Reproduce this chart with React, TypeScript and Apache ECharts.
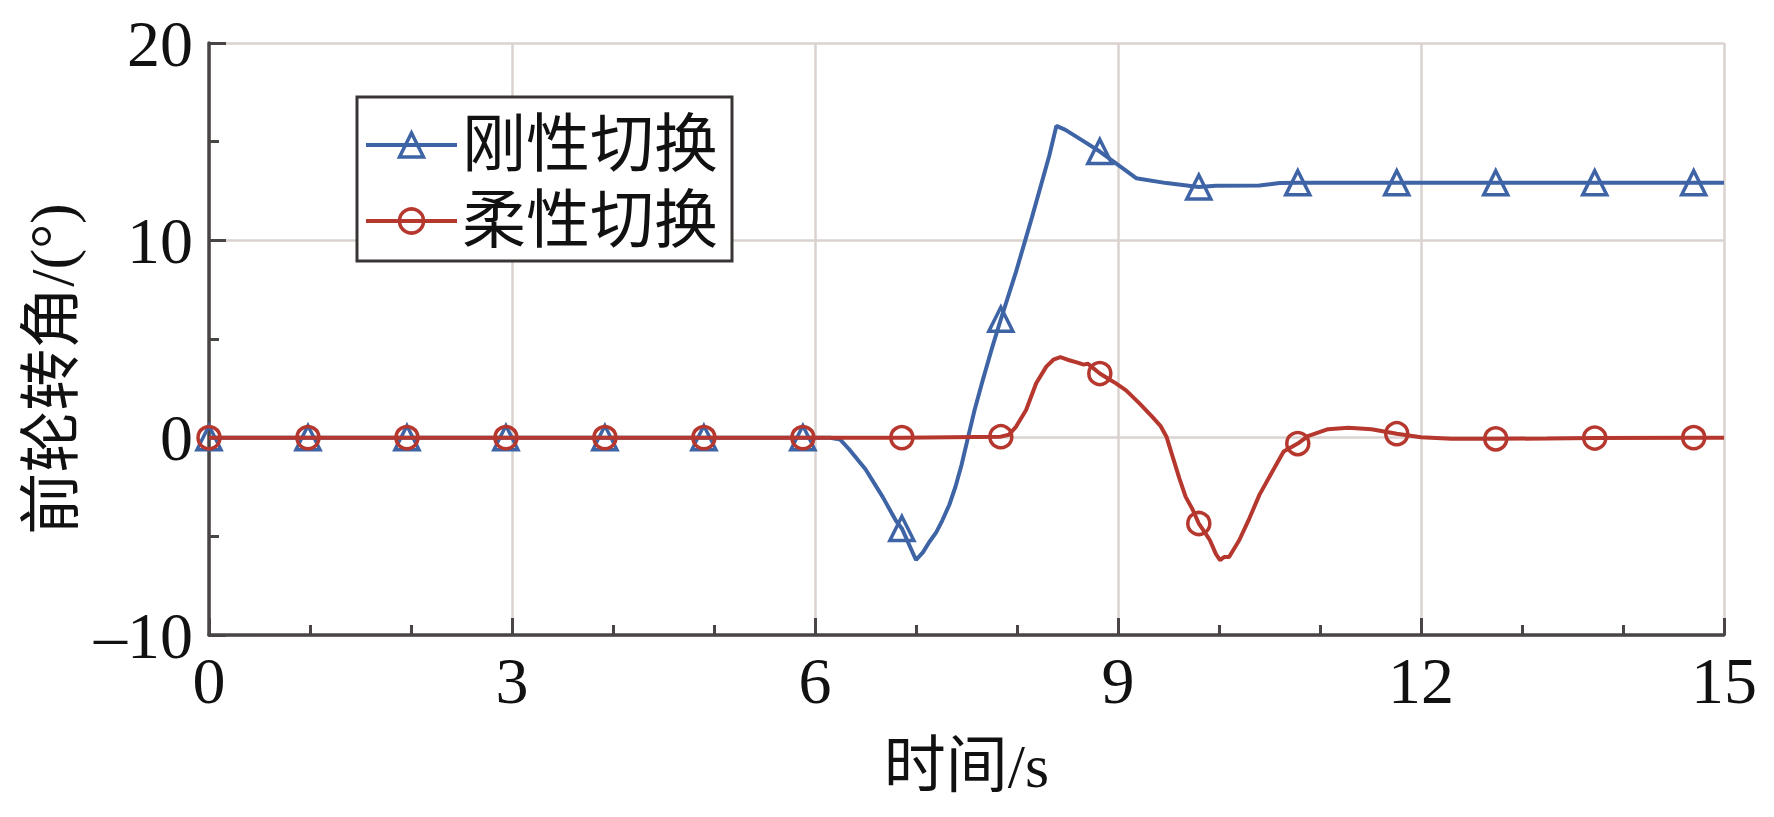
import React, { useEffect, useRef } from "react";
import * as echarts from "echarts";

const seriesNames = ["刚性切换", "柔性切换"];
const markerTimes = [0, 0.98, 1.96, 2.94, 3.92, 4.9, 5.88, 6.86, 7.84, 8.82, 9.8, 10.78, 11.76, 12.74, 13.72, 14.7];

const rigidCurve: [number, number][] = [
  [0, 0], [0.98, 0], [1.96, 0], [2.94, 0], [3.92, 0], [4.9, 0], [5.88, 0], [6.15, 0],
  [6.25, -0.1], [6.34, -0.6], [6.5, -1.6], [6.67, -3.0], [6.8, -4.2], [6.86, -4.6], [6.93, -5.4],
  [7.0, -6.2], [7.07, -5.8], [7.13, -5.3], [7.2, -4.8], [7.26, -4.2], [7.33, -3.4], [7.39, -2.5],
  [7.45, -1.4], [7.51, -0.1], [7.58, 1.4], [7.66, 2.9], [7.75, 4.5], [7.84, 6.0], [7.99, 8.4],
  [8.15, 11.2], [8.32, 14.3], [8.39, 15.8], [8.48, 15.6], [8.65, 15.05], [8.82, 14.5], [8.98, 13.9],
  [9.18, 13.15], [9.48, 12.9], [9.8, 12.7], [9.97, 12.76], [10.4, 12.78], [10.6, 12.9], [10.78, 12.92],
  [11.76, 12.92], [12.74, 12.92], [13.72, 12.92], [14.7, 12.92], [15, 12.92],
];

const flexibleCurve: [number, number][] = [
  [0, 0], [0.98, 0], [1.96, 0], [2.94, 0], [3.92, 0], [4.9, 0], [5.88, 0], [6.86, 0], [7.84, 0.05],
  [7.92, 0.15], [7.99, 0.55], [8.09, 1.4], [8.19, 2.76], [8.29, 3.6], [8.36, 3.95], [8.43, 4.08],
  [8.5, 3.95], [8.6, 3.8], [8.66, 3.7], [8.7, 3.75], [8.82, 3.25], [8.9, 3.0], [8.98, 2.75],
  [9.08, 2.4], [9.21, 1.75], [9.34, 1.05], [9.42, 0.6], [9.48, 0.05], [9.54, -0.95], [9.61, -2.1],
  [9.67, -3.0], [9.74, -3.65], [9.8, -4.35], [9.86, -4.8], [9.91, -5.2], [9.97, -5.9], [10.01, -6.2],
  [10.05, -6.05], [10.1, -6.05], [10.2, -5.2], [10.3, -4.1], [10.4, -2.9], [10.53, -1.7], [10.64, -0.7],
  [10.78, -0.3], [10.88, 0.08], [11.08, 0.43], [11.28, 0.5], [11.51, 0.43], [11.76, 0.2], [12, 0.02],
  [12.3, -0.06], [12.74, -0.06], [13.25, -0.04], [13.72, -0.02], [14.7, 0], [15, 0],
];

const xTicks = { min: 0, max: 15, interval: 3 };
const yTicks = { min: -10, max: 20, interval: 10 };

const BLUE = "#3e64a6";
const RED = "#b5372e";
const AXIS = "#4a4545";
const GRID = "#dad2cf";
const FONT = "'Liberation Serif', 'Noto Sans CJK SC', serif";

function buildData(curve: [number, number][]) {
  return curve.map(([x, y]) => {
    const isMarker = markerTimes.some((m) => Math.abs(m - x) < 1e-6);
    return isMarker ? { value: [x, y] } : { value: [x, y], symbol: "none" };
  });
}

export default function App() {
  const ref = useRef<HTMLDivElement>(null);
  useEffect(() => {
    document.body.style.margin = "0";
    const chart = echarts.init(ref.current!, undefined, { renderer: "svg" });
    const axisCommon = {
      axisLine: { show: true, onZero: false, lineStyle: { color: AXIS, width: 3.5 } },
      axisTick: { show: true, inside: true, length: 17, lineStyle: { color: AXIS, width: 3 } },
      minorTick: { show: true, length: 10, lineStyle: { color: AXIS, width: 3 } },
      splitLine: { show: true, lineStyle: { color: GRID, width: 2.5 } },
      axisLabel: { color: "#111", fontFamily: FONT, fontSize: 66 },
      nameTextStyle: { color: "#111", fontFamily: FONT, fontSize: 62 },
    };
    chart.setOption({
      animation: false,
      backgroundColor: "#fff",
      grid: { left: 209, right: 50, top: 43, bottom: 182, containLabel: false },
      legend: {
        orient: "vertical",
        left: 357,
        top: 97,
        data: seriesNames,
        backgroundColor: "#fff",
        borderColor: "#3a3535",
        borderWidth: 3,
        borderRadius: 0,
        padding: [16, 14, 8, 7],
        itemWidth: 91,
        itemHeight: 30,
        itemGap: 12,
        itemStyle: { borderWidth: 3.5 },
        lineStyle: { width: 4 },
        textStyle: { color: "#111", fontFamily: FONT, fontSize: 64 },
      },
      xAxis: {
        type: "value",
        ...xTicks,
        ...axisCommon,
        minorTick: { ...axisCommon.minorTick, splitNumber: 3 },
        axisLabel: { ...axisCommon.axisLabel, margin: 12 },
        name: "时间/s",
        nameLocation: "middle",
        nameGap: 100,
      },
      yAxis: {
        type: "value",
        ...yTicks,
        ...axisCommon,
        minorTick: { ...axisCommon.minorTick, splitNumber: 2 },
        axisLabel: {
          ...axisCommon.axisLabel,
          margin: 16,
          formatter: (v: number) => (v < 0 ? "–" + Math.abs(v) : String(v)),
        },
        name: "前轮转角/(°)",
        nameLocation: "middle",
        nameGap: 122,
        nameTextStyle: { ...axisCommon.nameTextStyle, padding: [0, 60, 0, 0] },
      },
      series: [
        {
          name: seriesNames[0],
          type: "line",
          data: buildData(rigidCurve),
          symbol: "triangle",
          symbolSize: 24,
          lineStyle: { color: BLUE, width: 4 },
          itemStyle: { color: "rgba(255,255,255,0)", borderColor: BLUE, borderWidth: 3.5 },
          z: 2,
        },
        {
          name: seriesNames[1],
          type: "line",
          data: buildData(flexibleCurve),
          symbol: "circle",
          symbolSize: 22,
          lineStyle: { color: RED, width: 4 },
          itemStyle: { color: "rgba(255,255,255,0)", borderColor: RED, borderWidth: 3.5 },
          z: 3,
        },
      ],
    });
    return () => chart.dispose();
  }, []);
  return <div ref={ref} style={{ width: 1774, height: 817 }} />;
}
